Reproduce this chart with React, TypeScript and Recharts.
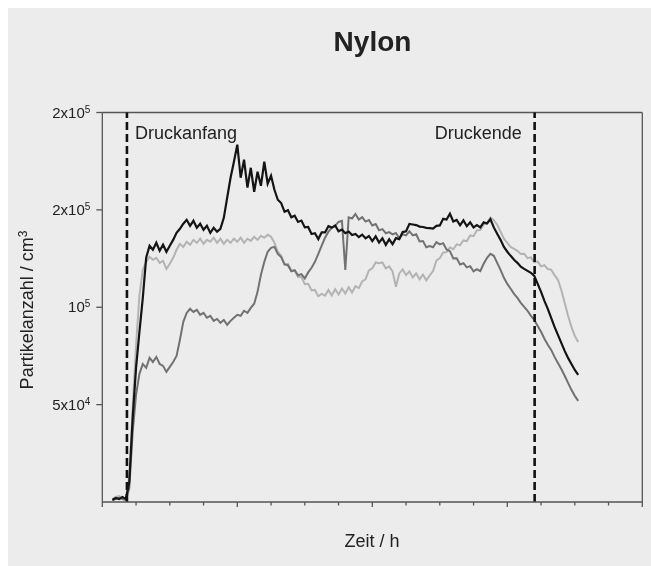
import React from 'react';
import { LineChart, Line, XAxis, YAxis, ReferenceLine } from 'recharts';

const times = [
  0.3, 0.4, 0.5, 0.6, 0.7, 0.8, 0.9, 1.0, 1.1, 1.2,
  1.3, 1.4, 1.5, 1.6, 1.7, 1.8, 1.9, 2.0, 2.1, 2.2,
  2.3, 2.4, 2.5, 2.6, 2.7, 2.8, 2.9, 3.0, 3.1, 3.2,
  3.3, 3.4, 3.5, 3.6, 3.7, 3.8, 3.9, 4.0, 4.1, 4.2,
  4.3, 4.4, 4.5, 4.6, 4.7, 4.8, 4.9, 5.0, 5.1, 5.2,
  5.3, 5.4, 5.5, 5.6, 5.7, 5.8, 5.9, 6.0, 6.1, 6.2,
  6.3, 6.4, 6.5, 6.6, 6.7, 6.8, 6.9, 7.0, 7.1, 7.2,
  7.3, 7.4, 7.5, 7.6, 7.7, 7.8, 7.9, 8.0, 8.1, 8.2,
  8.3, 8.4, 8.5, 8.6, 8.7, 8.8, 8.9, 9.0, 9.1, 9.2,
  9.3, 9.4, 9.5, 9.6, 9.7, 9.8, 9.9, 10.0, 10.1, 10.2,
  10.3, 10.4, 10.5, 10.6, 10.7, 10.8, 10.9, 11.0, 11.1, 11.2,
  11.3, 11.4, 11.5, 11.6, 11.7, 11.8, 11.9, 12.0, 12.1, 12.2,
  12.3, 12.4, 12.5, 12.6, 12.7, 12.8, 12.9, 13.0, 13.1, 13.2,
  13.3, 13.4, 13.5, 13.6, 13.7, 13.8, 13.9, 14.0, 14.1,
];

// particle counts in thousands per cm3
const seriesBlack = [
  1.0, 2.1, 1.5, 2.6, 1.5, 10.3, 43.2, 68.9, 87.4, 104.8,
  125.4, 131.6, 129.5, 133.1, 129.0, 132.1, 128.5, 131.6, 134.6, 138.2,
  140.3, 142.9, 144.9, 141.8, 144.4, 140.8, 142.9, 139.8, 141.8, 138.2,
  140.8, 138.8, 140.3, 145.9, 156.2, 166.5, 174.7, 183.5, 166.5, 175.8,
  161.4, 171.6, 159.3, 169.6, 162.4, 174.7, 163.4, 167.5, 160.3, 155.2,
  153.5, 149.0, 149.8, 146.2, 147.0, 143.8, 144.5, 141.0, 141.2, 137.6,
  138.0, 135.0, 138.5, 138.4, 141.6, 140.9, 142.0, 139.0, 139.9, 138.0,
  138.9, 137.1, 137.6, 136.0, 137.3, 135.4, 136.6, 134.0, 136.4, 133.2,
  135.4, 132.0, 134.9, 132.4, 135.5, 135.0, 138.6, 139.0, 142.8, 142.5,
  142.2, 141.4, 141.2, 140.8, 140.6, 140.4, 141.8, 142.0, 145.4, 145.0,
  148.0, 144.0, 144.8, 142.1, 144.6, 141.6, 143.6, 141.0, 142.2, 141.0,
  143.6, 143.0, 145.2, 141.0, 137.7, 134.6, 131.0, 128.5, 126.4, 124.4,
  122.8, 120.8, 119.7, 118.7, 117.7, 116.1, 112.0, 107.9, 103.3, 99.2,
  94.6, 89.9, 85.8, 81.7, 77.6, 74.0, 70.9, 67.8, 65.3,
];

const seriesLight = [
  1.5, 2.6, 3.1, 2.1, 1.5, 13.4, 48.3, 80.7, 105.9, 119.2,
  123.3, 125.9, 124.4, 125.4, 122.8, 123.8, 119.7, 122.3, 125.4, 129.5,
  132.6, 131.0, 133.6, 132.1, 134.6, 133.1, 135.2, 132.6, 134.6, 133.6,
  135.7, 133.1, 135.2, 132.6, 134.6, 133.1, 135.2, 133.6, 135.7, 133.1,
  135.2, 134.1, 136.2, 134.6, 136.7, 135.7, 137.2, 136.2, 133.1, 128.5,
  126.4, 122.0, 122.3, 118.9, 118.8, 115.4, 115.6, 111.8, 112.0, 108.7,
  108.9, 105.6, 106.9, 106.0, 108.9, 106.0, 109.2, 106.5, 109.6, 107.0,
  110.3, 107.6, 110.8, 109.8, 113.2, 114.4, 118.9, 120.0, 123.0, 122.6,
  123.0, 120.0, 121.0, 118.4, 110.5, 117.4, 119.4, 116.5, 118.4, 115.3,
  117.4, 114.3, 116.8, 113.8, 116.3, 118.6, 124.0, 125.2, 128.1, 128.3,
  130.7, 129.8, 132.3, 131.9, 134.3, 133.9, 136.9, 136.5, 139.5, 139.6,
  142.5, 143.2, 146.1, 144.7, 142.4, 138.8, 135.2, 133.1, 131.0, 130.0,
  129.0, 127.4, 127.5, 125.2, 125.6, 123.0, 123.5, 121.0, 121.6, 119.6,
  119.3, 116.5, 114.1, 108.9, 102.3, 95.6, 89.9, 85.3, 82.2,
];

const seriesDark = [
  1.0, 1.5, 2.1, 1.5, 1.0, 7.2, 36.0, 55.0, 65.8, 70.9,
  68.9, 74.0, 71.9, 74.5, 70.9, 69.9, 66.8, 69.4, 71.9, 75.0,
  83.3, 92.5, 97.1, 99.2, 97.6, 98.7, 96.1, 97.1, 94.6, 95.6,
  93.0, 94.0, 92.0, 93.5, 91.0, 93.0, 94.6, 96.1, 95.6, 98.2,
  97.1, 99.7, 101.8, 107.9, 116.7, 123.3, 128.5, 130.5, 131.0, 127.4,
  125.8, 122.0, 121.6, 118.5, 119.0, 116.4, 117.0, 114.8, 117.9, 120.3,
  123.3, 127.4, 131.6, 135.7, 138.8, 140.8, 141.8, 143.9, 144.4, 119.2,
  146.2, 145.6, 147.9, 145.0, 146.3, 144.0, 144.8, 142.0, 142.7, 139.5,
  140.1, 138.0, 138.6, 137.4, 138.1, 135.4, 137.5, 136.9, 139.0, 136.9,
  137.5, 133.8, 134.0, 130.8, 131.4, 130.8, 133.4, 132.3, 132.9, 129.7,
  128.8, 125.1, 125.2, 122.0, 122.6, 120.5, 121.1, 118.4, 119.5, 118.6,
  122.3, 125.4, 127.4, 126.4, 122.8, 119.2, 115.1, 112.0, 109.5, 106.9,
  104.8, 102.3, 100.2, 98.2, 95.6, 93.5, 90.4, 87.4, 83.8, 80.7,
  78.1, 74.5, 71.4, 68.3, 64.8, 61.2, 57.6, 54.5, 51.9,
];

const xTicks = [0, 1, 2, 3, 4, 5, 6, 7, 8, 9, 10, 11, 12, 13, 14, 15, 16];
const xMajorTicks = [0, 4, 8, 12, 16];
const yTicks = [50, 100, 150, 200];
const yTickBase: Record<number, string> = { 50: '5x10', 100: '10', 150: '2x10', 200: '2x10' };
const yTickExp: Record<number, string> = { 50: '4', 100: '5', 150: '5', 200: '5' };
const eventStart = 0.73;
const eventEnd = 12.81;

const title = 'Nylon';
const xLabel = 'Zeit / h';
const yLabelMain = 'Partikelanzahl / cm';
const yLabelExp = '3';
const startLabel = 'Druckanfang';
const endLabel = 'Druckende';

const rows = times.map((t, i) => ({
  t,
  black: seriesBlack[i],
  light: seriesLight[i],
  dark: seriesDark[i],
}));

// chart box sits at the body's 8px margin; it fills the rest of the window exactly
const W = 635;
const H = 550;
const FONT = '"Liberation Sans", Arial, sans-serif';
const AXIS = '#555555';
const TEXT = '#222222';
const PANEL = '#ececec';

const XTick = (props: any) => {
  const { x, y, payload } = props;
  const len = xMajorTicks.includes(payload.value) ? 5 : 3.5;
  return <line x1={x} x2={x} y1={y} y2={y + len} stroke={AXIS} strokeWidth={1.3} />;
};

const YTick = (props: any) => {
  const { x, y, payload } = props;
  const v = payload.value;
  return (
    <text x={x} y={y + 5} textAnchor="end" fontFamily={FONT} fontSize={15} fill={TEXT}>
      <tspan>{yTickBase[v]}</tspan>
      <tspan dy={-5} fontSize={10}>{yTickExp[v]}</tspan>
    </text>
  );
};

export default function App() {
  return (
    <>
      <div style={{ position: 'fixed', left: 8, top: 8, right: 0, bottom: 0, background: PANEL }} />
      <div style={{ position: 'relative', width: W, height: H }}>
        <LineChart
          width={W}
          height={H}
          data={rows}
          margin={{ top: 104.5, right: 0.7, bottom: 26, left: 14.3 }}
        >
          <XAxis
            dataKey="t"
            type="number"
            domain={[0, 16]}
            ticks={xTicks}
            interval={0}
            tickSize={0}
            tickMargin={0}
            tick={XTick}
            axisLine={{ stroke: AXIS, strokeWidth: 1.3 }}
            height={30}
            allowDataOverflow
          />
          <YAxis
            type="number"
            domain={[0, 200]}
            ticks={yTicks}
            interval={0}
            width={80}
            tickSize={6}
            tickMargin={6}
            tickLine={{ stroke: AXIS, strokeWidth: 1.3 }}
            axisLine={{ stroke: AXIS, strokeWidth: 1.3 }}
            tick={YTick}
            allowDataOverflow
          />
          <ReferenceLine y={200} stroke={AXIS} strokeWidth={1.3} />
          <ReferenceLine x={16} stroke={AXIS} strokeWidth={1.3} />
          <Line dataKey="light" stroke="#b3b3b3" strokeWidth={2} dot={false} isAnimationActive={false} type="linear" />
          <Line dataKey="dark" stroke="#727272" strokeWidth={2} dot={false} isAnimationActive={false} type="linear" />
          <Line dataKey="black" stroke="#141414" strokeWidth={2.2} dot={false} isAnimationActive={false} type="linear" />
          <ReferenceLine x={eventStart} stroke="#111" strokeWidth={2.6} strokeDasharray="8 4" />
          <ReferenceLine x={eventEnd} stroke="#111" strokeWidth={2.6} strokeDasharray="8 4" />
        </LineChart>
        <svg
          width={W}
          height={H}
          style={{ position: 'absolute', left: 0, top: 0, pointerEvents: 'none' }}
        >
          <text x={364.5} y={43} textAnchor="middle" fontFamily={FONT} fontSize={28} fontWeight="bold" fill={TEXT}>
            {title}
          </text>
          <text x={127} y={131} fontFamily={FONT} fontSize={18} fill={TEXT}>
            {startLabel}
          </text>
          <text x={513.7} y={130.5} textAnchor="end" fontFamily={FONT} fontSize={18} fill={TEXT}>
            {endLabel}
          </text>
          <text x={364} y={539} textAnchor="middle" fontFamily={FONT} fontSize={18} fill={TEXT}>
            {xLabel}
          </text>
          <text
            transform="translate(25,302) rotate(-90)"
            textAnchor="middle"
            fontFamily={FONT}
            fontSize={18}
            fill={TEXT}
          >
            <tspan>{yLabelMain}</tspan>
            <tspan dy={-6} fontSize={12}>{yLabelExp}</tspan>
          </text>
        </svg>
      </div>
    </>
  );
}
